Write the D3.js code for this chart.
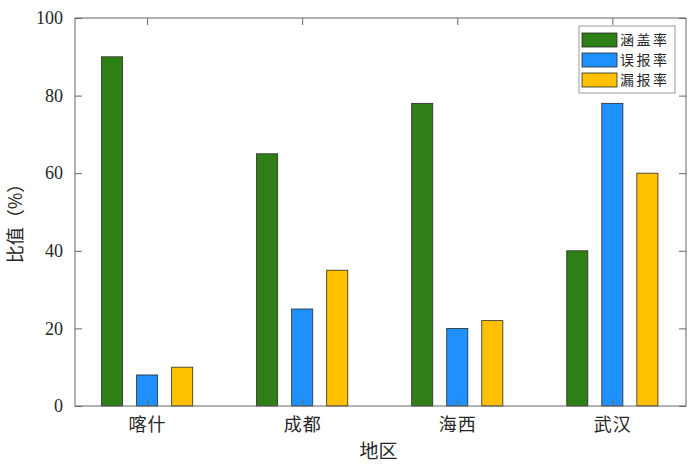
<!DOCTYPE html>
<html><head><meta charset="utf-8">
<script src="https://cdn.jsdelivr.net/npm/d3@7"></script>
<style>body{margin:0;background:#fff;}svg{display:block;}</style>
</head><body>
<script>
const categories = ["喀什", "成都", "海西", "武汉"];
const seriesNames = ["涵盖率", "误报率", "漏报率"];
const coverage = [90, 65, 78, 40];
const falseAlarm = [8, 25, 20, 78];
const missed = [10, 35, 22, 60];
const yTicks = [0, 20, 40, 60, 80, 100];
const colors = ["#2f7f17", "#1e90ff", "#ffc000"];
const series = [coverage, falseAlarm, missed];

const W = 700, H = 464;
const L = 75, R = 686, T = 18, B = 406;
const svg = d3.select("body").append("svg").attr("width", W).attr("height", H);

const x = d3.scaleLinear().domain([0.535, 4.475]).range([L, R]);
const y = d3.scaleLinear().domain([0, 100]).range([B, T]);
const offset = 0.226, bw = 0.136;

const numFont = "'Liberation Serif', 'Times New Roman', serif";
const cjkFont = "'Noto Sans CJK SC', sans-serif";

// bars
series.forEach((vals, si) => {
  svg.append("g").selectAll("rect").data(vals).join("rect")
    .attr("x", (d, i) => x(i + 1 + (si - 1) * offset - bw / 2))
    .attr("width", (d, i) => x(i + 1 + bw / 2) - x(i + 1 - bw / 2))
    .attr("y", d => y(d))
    .attr("height", d => y(0) - y(d))
    .attr("fill", colors[si])
    .attr("stroke", "#2a2a2a")
    .attr("stroke-width", 0.8);
});

// axes (box with inward ticks)
const axisColor = "#666";
const yL = d3.axisLeft(y).tickValues(yTicks).tickSizeInner(-7).tickSizeOuter(0).tickPadding(12);
const gy = svg.append("g").attr("transform", `translate(${L},0)`).call(yL);
gy.selectAll("text").attr("font-family", numFont).attr("font-size", 18).attr("fill", "#262626");
const yR = d3.axisRight(y).tickValues(yTicks).tickSizeInner(-7).tickSizeOuter(0).tickFormat("");
const gyr = svg.append("g").attr("transform", `translate(${R},0)`).call(yR);

const xB = d3.axisBottom(x).tickValues([1, 2, 3, 4]).tickSizeInner(-7).tickSizeOuter(0)
  .tickFormat((d) => categories[d - 1]).tickPadding(12);
const gx = svg.append("g").attr("transform", `translate(0,${B})`).call(xB);
gx.selectAll("text").attr("font-family", cjkFont).attr("font-size", 18)
  .attr("letter-spacing", 1).attr("fill", "#262626");
const xT = d3.axisTop(x).tickValues([1, 2, 3, 4]).tickSizeInner(-7).tickSizeOuter(0).tickFormat("");
const gxt = svg.append("g").attr("transform", `translate(0,${T})`).call(xT);

[gy, gyr, gx, gxt].forEach(g => {
  g.select(".domain").remove();
  g.selectAll("line").attr("stroke", axisColor);
});
svg.append("rect").attr("x", L).attr("y", T).attr("width", R - L).attr("height", B - T)
  .attr("fill", "none").attr("stroke", axisColor).attr("stroke-width", 1);

// axis titles
svg.append("text").attr("x", (L + R) / 2 - 2).attr("y", 451).attr("dy", "0.35em")
  .attr("text-anchor", "middle").attr("font-family", cjkFont).attr("font-size", 19)
  .attr("fill", "#262626").text("地区");
svg.append("text").attr("transform", "translate(16,219) rotate(-90)").attr("dy", "0.35em")
  .attr("text-anchor", "middle").attr("font-family", cjkFont).attr("font-size", 18)
  .attr("fill", "#262626").text("比值（%）");

// legend
const lg = svg.append("g");
lg.append("rect").attr("x", 579).attr("y", 26).attr("width", 96).attr("height", 67)
  .attr("fill", "#fff").attr("stroke", "#999").attr("stroke-width", 1);
seriesNames.forEach((name, i) => {
  const cy = 40 + i * 20;
  lg.append("rect").attr("x", 582).attr("y", cy - 7).attr("width", 35).attr("height", 14)
    .attr("fill", colors[i]).attr("stroke", "#2a2a2a").attr("stroke-width", 0.8);
  lg.append("text").attr("x", 620).attr("y", cy).attr("dy", "0.35em")
    .attr("font-family", cjkFont).attr("font-size", 14).attr("letter-spacing", 2.5)
    .attr("fill", "#262626").text(name);
});
</script>
</body></html>
